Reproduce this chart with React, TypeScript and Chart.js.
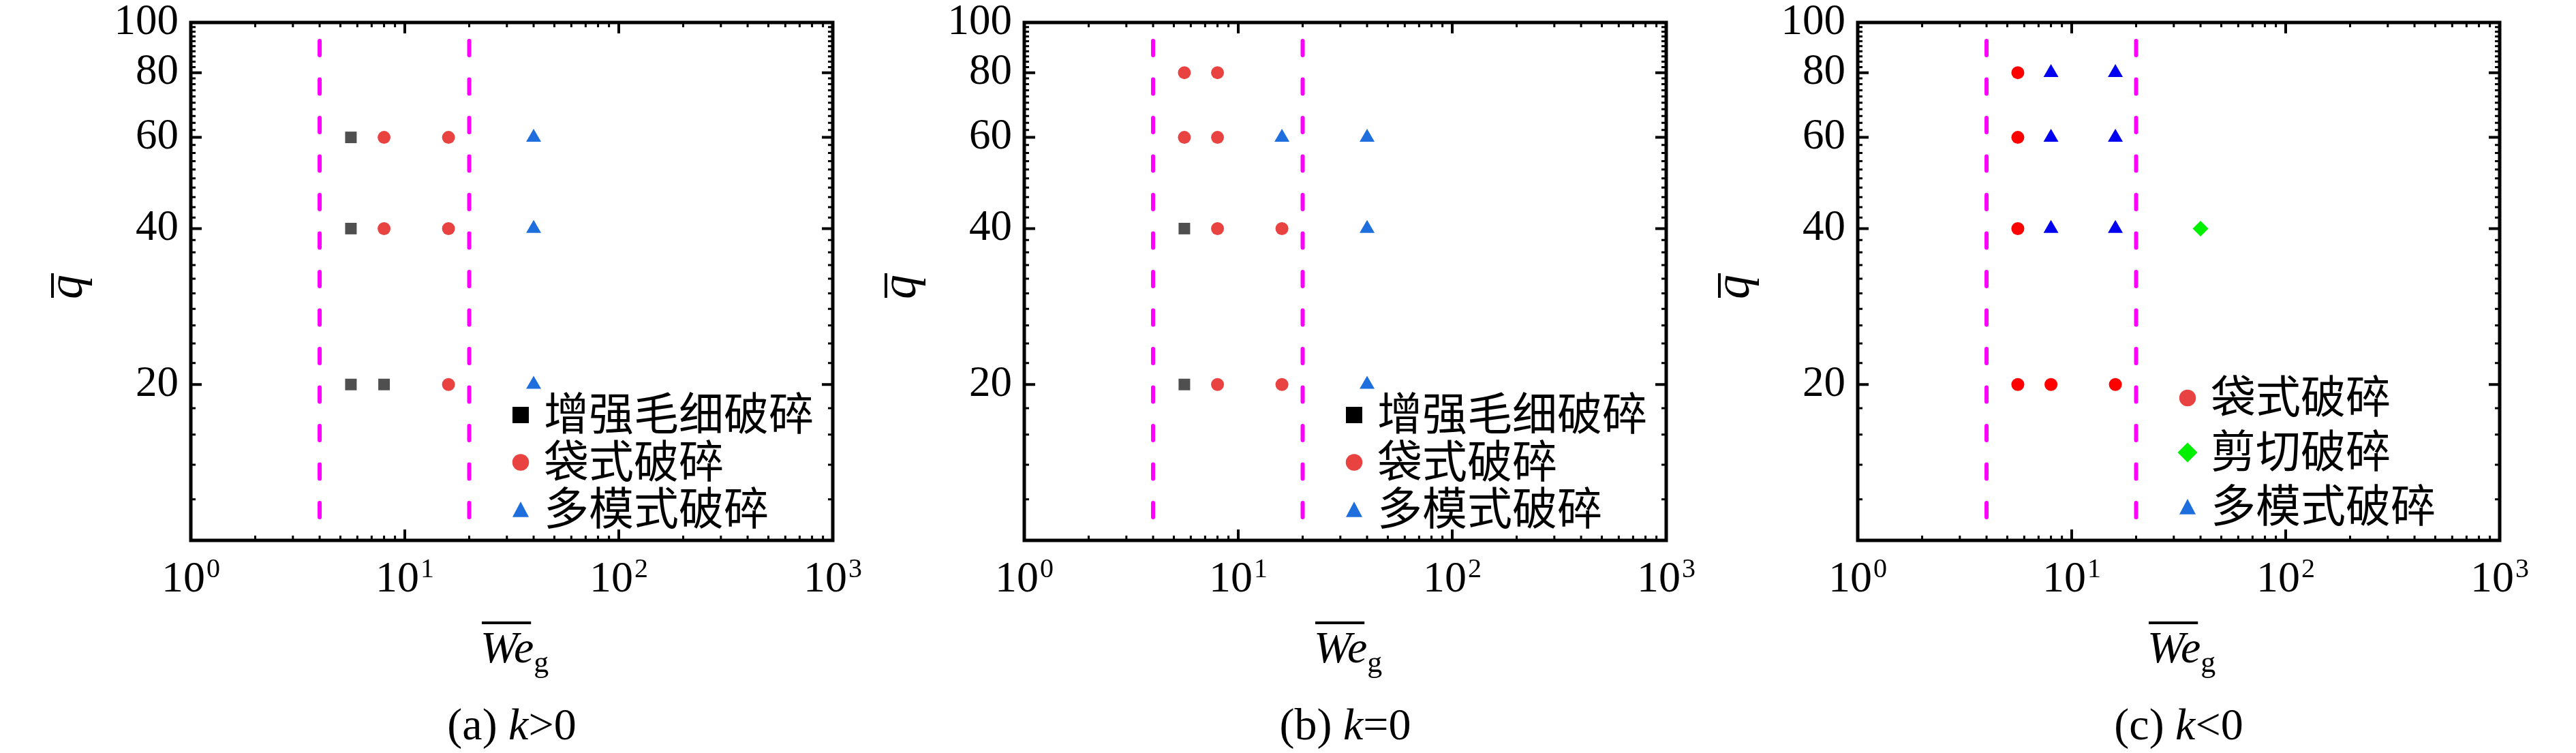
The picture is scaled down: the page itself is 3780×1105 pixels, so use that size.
import React, { useEffect, useRef } from "react";
import Chart from "chart.js/auto";

type Pt = [number, number];

// axes
const X_TICKS = [1, 10, 100, 1000];
const X_MINOR_STEPS = [2, 3, 4, 5, 6, 7, 8, 9];
const Y_TICKS = [20, 40, 60, 80, 100];
const X_MIN = 1;
const X_MAX = 1000;
const Y_MIN = 10;
const Y_MAX = 100;
const BOUNDARIES = [4, 20];

const NAME_ENHANCED = "增强毛细破碎";
const NAME_BAG = "袋式破碎";
const NAME_SHEAR = "剪切破碎";
const NAME_MULTI = "多模式破碎";

// (a) k>0
const aEnhanced: Pt[] = [[5.6, 60], [5.6, 40], [5.6, 20], [8, 20]];
const aBag: Pt[] = [[8, 60], [16, 60], [8, 40], [16, 40], [16, 20]];
const aMulti: Pt[] = [[40, 60], [40, 40], [40, 20]];

// (b) k=0
const bEnhanced: Pt[] = [[5.6, 40], [5.6, 20]];
const bBag: Pt[] = [[5.6, 80], [8, 80], [5.6, 60], [8, 60], [8, 40], [16, 40], [8, 20], [16, 20]];
const bMulti: Pt[] = [[16, 60], [40, 60], [40, 40], [40, 20]];

// (c) k<0
const cBag: Pt[] = [[5.6, 80], [5.6, 60], [5.6, 40], [5.6, 20], [8, 20], [16, 20]];
const cShear: Pt[] = [[40, 40]];
const cMulti: Pt[] = [[8, 80], [16, 80], [8, 60], [16, 60], [8, 40], [16, 40]];

const GRAY = "#4f4f4f";
const BLACK = "#000000";
const RED_SOFT = "#e94341";
const BLUE_SOFT = "#1e6fdd";
const RED = "#ff0000";
const BLUE = "#0000f0";
const GREEN = "#00f000";
const MAGENTA = "#ff00ff";

const SERIF = "'Liberation Serif', 'Times New Roman', serif";
const CJK = "'Noto Sans CJK SC', sans-serif";

const CANVAS_W = 1300;
const CANVAS_H = 1105;
const PLOT_LEFT = 280;
const PLOT_RIGHT = 1222;
const PLOT_TOP = 33;
const PLOT_BOTTOM = 793;

type Series = {
  name: string;
  data: Pt[];
  style: "rect" | "circle" | "triangle" | "rectRot";
  radius: number;
  color: string;
  legendColor: string;
};

type Panel = {
  tag: string;
  cond: string;
  series: Series[];
  legendTop: number;
  legendGap: number;
};

const PANELS: Panel[] = [
  {
    tag: "(a) ",
    cond: ">0",
    legendTop: 609,
    legendGap: 69.5,
    series: [
      { name: NAME_ENHANCED, data: aEnhanced, style: "rect", radius: 12, color: GRAY, legendColor: BLACK },
      { name: NAME_BAG, data: aBag, style: "circle", radius: 9.5, color: RED_SOFT, legendColor: RED_SOFT },
      { name: NAME_MULTI, data: aMulti, style: "triangle", radius: 12.7, color: BLUE_SOFT, legendColor: BLUE_SOFT },
    ],
  },
  {
    tag: "(b) ",
    cond: "=0",
    legendTop: 609,
    legendGap: 69.5,
    series: [
      { name: NAME_ENHANCED, data: bEnhanced, style: "rect", radius: 12, color: GRAY, legendColor: BLACK },
      { name: NAME_BAG, data: bBag, style: "circle", radius: 9.5, color: RED_SOFT, legendColor: RED_SOFT },
      { name: NAME_MULTI, data: bMulti, style: "triangle", radius: 12.7, color: BLUE_SOFT, legendColor: BLUE_SOFT },
    ],
  },
  {
    tag: "(c) ",
    cond: "<0",
    legendTop: 584,
    legendGap: 80,
    series: [
      { name: NAME_BAG, data: cBag, style: "circle", radius: 9.5, color: RED, legendColor: RED_SOFT },
      { name: NAME_SHEAR, data: cShear, style: "rectRot", radius: 11.5, color: GREEN, legendColor: GREEN },
      { name: NAME_MULTI, data: cMulti, style: "triangle", radius: 12.7, color: BLUE, legendColor: BLUE_SOFT },
    ],
  },
];

function drawMarker(ctx: CanvasRenderingContext2D, style: string, x: number, y: number, size: number, color: string) {
  ctx.fillStyle = color;
  ctx.beginPath();
  if (style === "rect") {
    ctx.rect(x - size / 2, y - size / 2, size, size);
  } else if (style === "circle") {
    ctx.arc(x, y, size / 2, 0, Math.PI * 2);
  } else if (style === "triangle") {
    ctx.moveTo(x, y - size * 0.5);
    ctx.lineTo(x + size / 2, y + size * 0.45);
    ctx.lineTo(x - size / 2, y + size * 0.45);
    ctx.closePath();
  } else {
    const h = size / 2;
    ctx.moveTo(x, y - h);
    ctx.lineTo(x + h, y);
    ctx.lineTo(x, y + h);
    ctx.lineTo(x - h, y);
    ctx.closePath();
  }
  ctx.fill();
}

// frame with inward ticks on all four sides
const framePlugin = {
  id: "frame",
  afterDatasetsDraw(chart: any) {
    const { ctx, chartArea } = chart;
    const { left, right, top, bottom } = chartArea;
    const xs = chart.scales.x;
    const ys = chart.scales.y;
    ctx.save();
    ctx.strokeStyle = "#000";

    const xTick = (v: number, len: number, w: number) => {
      const px = xs.getPixelForValue(v);
      ctx.lineWidth = w;
      ctx.beginPath();
      ctx.moveTo(px, bottom);
      ctx.lineTo(px, bottom - len);
      ctx.moveTo(px, top);
      ctx.lineTo(px, top + len);
      ctx.stroke();
    };
    const yTick = (v: number, len: number, w: number) => {
      const py = ys.getPixelForValue(v);
      ctx.lineWidth = w;
      ctx.beginPath();
      ctx.moveTo(left, py);
      ctx.lineTo(left + len, py);
      ctx.moveTo(right, py);
      ctx.lineTo(right - len, py);
      ctx.stroke();
    };

    X_TICKS.forEach((v) => xTick(v, 16, 4));
    X_TICKS.slice(0, -1).forEach((d) => X_MINOR_STEPS.forEach((m) => xTick(d * m, 7, 3)));
    Y_TICKS.forEach((v) => yTick(v, 16, 4));
    for (let v = Y_MIN + 2; v < Y_MAX; v += 2) {
      if (!Y_TICKS.includes(v)) yTick(v, 7, 3);
    }

    ctx.lineWidth = 5;
    ctx.strokeRect(left, top, right - left, bottom - top);
    ctx.restore();
  },
};

function makeTextPlugin(panel: Panel) {
  return {
    id: "panelText",
    afterDraw(chart: any) {
      const { ctx, chartArea } = chart;
      const { left, right, top, bottom } = chartArea;
      const xs = chart.scales.x;
      const ys = chart.scales.y;
      const cx = (left + right) / 2;
      ctx.save();
      ctx.fillStyle = "#000";

      // y tick labels
      ctx.font = `63px ${SERIF}`;
      ctx.textAlign = "right";
      ctx.textBaseline = "middle";
      Y_TICKS.forEach((v) => {
        ctx.fillText(String(v), left - 18, ys.getPixelForValue(v));
      });

      // x tick labels 10^n
      ctx.textBaseline = "alphabetic";
      X_TICKS.forEach((v) => {
        const px = xs.getPixelForValue(v);
        const exp = String(Math.round(Math.log10(v)));
        ctx.font = `64px ${SERIF}`;
        const w1 = ctx.measureText("10").width;
        ctx.font = `40px ${SERIF}`;
        const w2 = ctx.measureText(exp).width;
        const x0 = px - (w1 + 2 + w2) / 2;
        ctx.textAlign = "left";
        ctx.font = `64px ${SERIF}`;
        ctx.fillText("10", x0, bottom + 75);
        ctx.font = `40px ${SERIF}`;
        ctx.fillText(exp, x0 + w1 + 2, bottom + 54);
      });

      // x title: overline We, subscript g
      ctx.textAlign = "left";
      ctx.font = `italic 66px ${SERIF}`;
      const wWe = ctx.measureText("We").width;
      const tx = cx - 46;
      ctx.fillText("We", tx, bottom + 179);
      ctx.fillRect(tx + 2, bottom + 119, wWe - 6, 4);
      ctx.font = `44px ${SERIF}`;
      ctx.fillText("g", tx + wWe, bottom + 193);

      // y title: overline q, rotated
      ctx.save();
      ctx.translate(left - 160, (top + bottom) / 2 + 8);
      ctx.rotate(-Math.PI / 2);
      ctx.font = `italic 72px ${SERIF}`;
      ctx.textAlign = "center";
      ctx.fillText("q", 0, 0);
      ctx.fillRect(-16, -45, 36, 4);
      ctx.restore();

      // caption
      ctx.font = `66px ${SERIF}`;
      const w1 = ctx.measureText(panel.tag).width;
      const w3 = ctx.measureText(panel.cond).width;
      ctx.font = `italic 66px ${SERIF}`;
      const w2 = ctx.measureText("k").width;
      let x = cx - (w1 + w2 + w3) / 2;
      const by = bottom + 292;
      ctx.font = `66px ${SERIF}`;
      ctx.fillText(panel.tag, x, by);
      x += w1;
      ctx.font = `italic 66px ${SERIF}`;
      ctx.fillText("k", x, by);
      x += w2;
      ctx.font = `66px ${SERIF}`;
      ctx.fillText(panel.cond, x, by);

      // legend
      ctx.font = `66px ${CJK}`;
      ctx.textBaseline = "middle";
      ctx.textAlign = "left";
      panel.series.forEach((s, i) => {
        const y = panel.legendTop + i * panel.legendGap;
        const size = s.style === "rectRot" ? 29 : s.style === "circle" ? 24.5 : 24;
        drawMarker(ctx, s.style, left + 484, y, size, s.legendColor);
        ctx.fillStyle = "#000";
        ctx.fillText(s.name, left + 518, y - 3);
      });
      ctx.restore();
    },
  };
}

function PanelChart({ panel, offset }: { panel: Panel; offset: number }) {
  const canvasRef = useRef<HTMLCanvasElement | null>(null);

  useEffect(() => {
    if (!canvasRef.current) return;
    const ctx = canvasRef.current.getContext("2d");
    if (!ctx) return;

    const boundaryDatasets = BOUNDARIES.map((b) => ({
      type: "scatter" as const,
      label: `boundary ${b}`,
      data: [
        { x: b, y: Y_MAX },
        { x: b, y: Y_MIN },
      ],
      showLine: true,
      borderColor: MAGENTA,
      borderWidth: 6,
      borderDash: [21, 35.5],
      borderDashOffset: 29.5,
      borderCapStyle: "round" as const,
      pointRadius: 0,
      pointHoverRadius: 0,
    }));

    const pointDatasets = panel.series.map((s) => ({
      type: "scatter" as const,
      label: s.name,
      data: s.data.map(([x, y]) => ({ x, y })),
      pointStyle: s.style,
      pointRadius: s.radius,
      pointHoverRadius: s.radius,
      pointBackgroundColor: s.color,
      pointBorderColor: s.color,
      pointBorderWidth: 0,
      showLine: false,
    }));

    const chart = new Chart(ctx, {
      type: "scatter",
      data: { datasets: [...boundaryDatasets, ...pointDatasets] as any },
      options: {
        animation: false,
        responsive: false,
        devicePixelRatio: 1,
        layout: {
          padding: { left: 0, top: PLOT_TOP, right: CANVAS_W - PLOT_RIGHT, bottom: CANVAS_H - PLOT_BOTTOM - 100 },
        },
        plugins: {
          legend: { display: false },
          tooltip: { enabled: false },
        },
        scales: {
          x: {
            type: "logarithmic",
            min: X_MIN,
            max: X_MAX,
            grid: { display: false, drawTicks: false },
            border: { display: false },
            ticks: { display: false },
            afterBuildTicks: (scale: any) => {
              scale.ticks = X_TICKS.map((v) => ({ value: v }));
            },
            afterFit: (scale: any) => {
              scale.height = 100;
              scale.paddingLeft = 0;
              scale.paddingRight = 0;
            },
          },
          y: {
            type: "logarithmic",
            min: Y_MIN,
            max: Y_MAX,
            grid: { display: false, drawTicks: false },
            border: { display: false },
            ticks: { display: false },
            afterBuildTicks: (scale: any) => {
              scale.ticks = Y_TICKS.map((v) => ({ value: v }));
            },
            afterFit: (scale: any) => {
              scale.width = PLOT_LEFT;
              scale.paddingTop = 0;
              scale.paddingBottom = 0;
            },
          },
        },
      },
      plugins: [framePlugin, makeTextPlugin(panel)],
    });

    return () => {
      chart.destroy();
    };
  }, [panel]);

  return (
    <div style={{ position: "absolute", left: offset, top: 0, width: CANVAS_W, height: CANVAS_H }}>
      <canvas ref={canvasRef} width={CANVAS_W} height={CANVAS_H} />
    </div>
  );
}

export default function App() {
  return (
    <div style={{ position: "absolute", left: 0, top: 0, width: 3780, height: 1105, background: "#fff" }}>
      {PANELS.map((p, i) => (
        <PanelChart key={p.tag} panel={p} offset={i * 1223} />
      ))}
    </div>
  );
}
